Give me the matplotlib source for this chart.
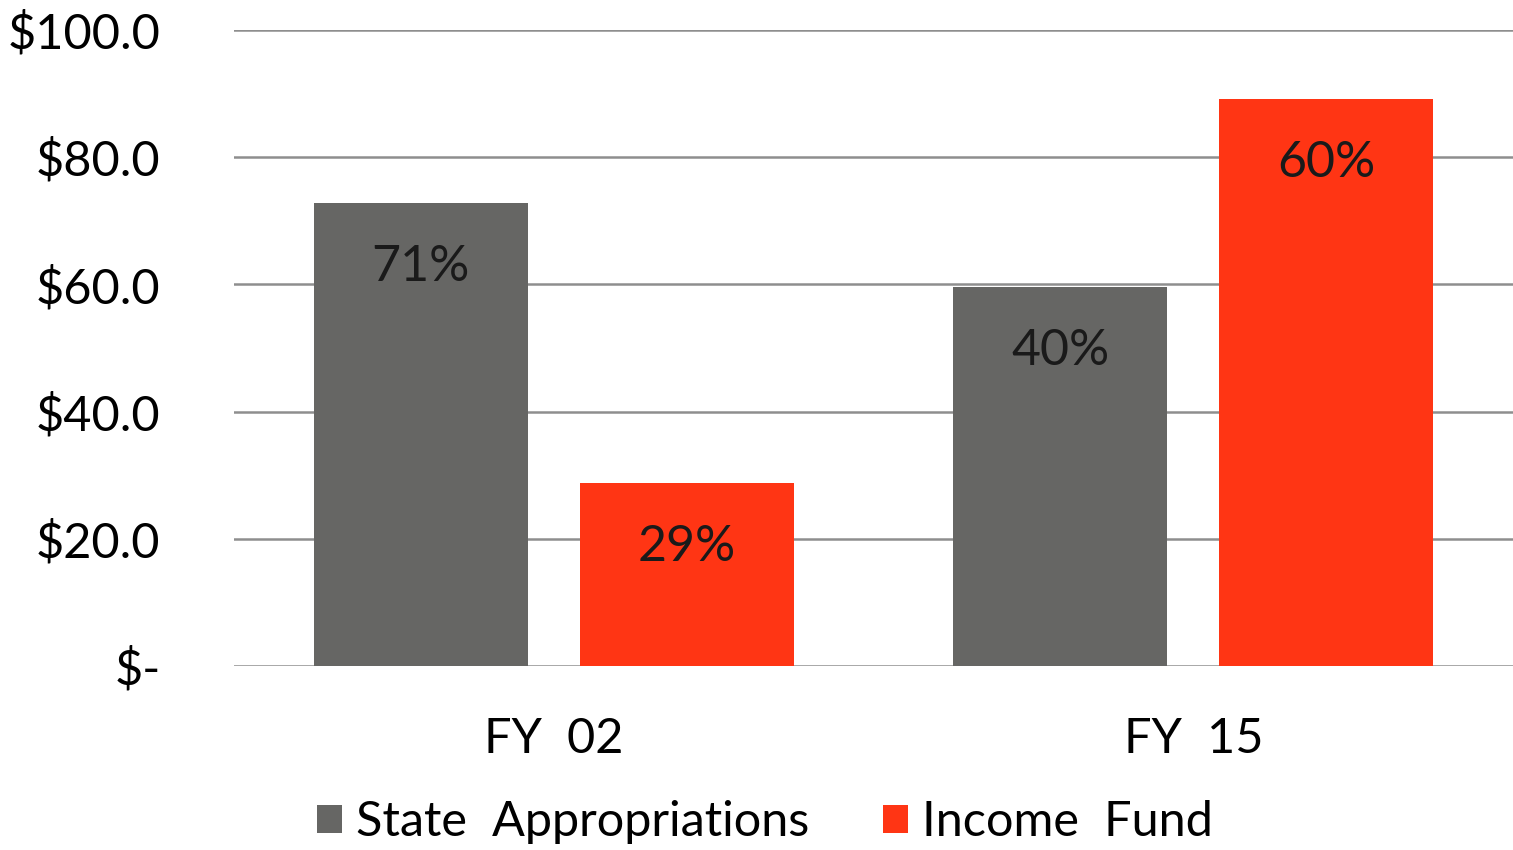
import matplotlib

matplotlib.use("Agg")
import matplotlib.pyplot as plt
import numpy as np

GREY = "#666664"
RED = "#ff3514"
GRID = "#8e8e8e"

categories = ["FY  02", "FY  15"]
series_names = ["State  Appropriations", "Income  Fund"]
state_vals = [72.8, 59.6]
income_vals = [28.8, 89.2]
state_pct = ["71%", "40%"]
income_pct = ["29%", "60%"]
y_ticks = [0, 20, 40, 60, 80, 100]

plt.rcParams["font.family"] = ["Lato", "DejaVu Sans"]

fig = plt.figure(figsize=(15.13, 8.5), dpi=100)
ax = fig.add_axes([0.1547, 0.2165, 0.8453, 0.7482])

x = np.arange(len(categories))
w = 0.335
off = 0.208
b1 = ax.bar(x - off, state_vals, w, color=GREY, label=series_names[0], zorder=2)
b2 = ax.bar(x + off, income_vals, w, color=RED, label=series_names[1], zorder=2)

for bars, labels in ((b1, state_pct), (b2, income_pct)):
    for rect, lab in zip(bars, labels):
        ax.annotate(lab, (rect.get_x() + rect.get_width() / 2, rect.get_height()),
                    xytext=(0, -64), textcoords="offset pixels",
                    ha="center", va="center", fontsize=36, color="#1a1a1a")

ax.set_xlim(-0.5, 1.5)
ax.set_ylim(0, 100)
ax.set_yticks(y_ticks)
ax.set_yticklabels(["$-" if v == 0 else f"${v:.1f}" for v in y_ticks])
ax.set_xticks(x)
ax.set_xticklabels(categories)
ax.tick_params(axis="y", length=0, pad=53, labelsize=35)
ax.tick_params(axis="x", length=0, pad=37, labelsize=35)
ax.yaxis.grid(True, color=GRID, linewidth=1.8, zorder=0)
ax.set_axisbelow(True)
for s in ax.spines.values():
    s.set_visible(False)

fig.legend(loc="center", bbox_to_anchor=(0.5056, 0.033), ncol=2, frameon=False,
           fontsize=35, handlelength=0.52, handleheight=0.52, handletextpad=0.3,
           columnspacing=1.5)

fig.savefig("out.png", dpi=100, facecolor="white")
